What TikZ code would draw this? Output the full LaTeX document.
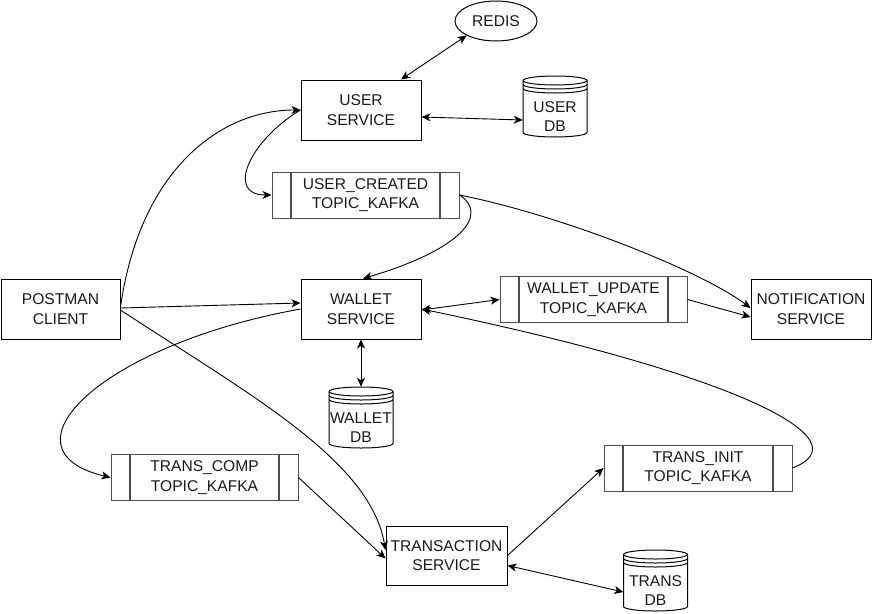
\documentclass[tikz,border=0pt]{standalone}
\usepackage{fontspec}
\setmainfont{Liberation Sans}
\usetikzlibrary{arrows.meta,shapes.geometric,calc}
\definecolor{kgray}{HTML}{4D4D4D}
\definecolor{txtc}{HTML}{1A1A1A}
\newcommand\dfont{\fontsize{15.6pt}{19.5pt}\selectfont}
\tikzset{
  shp/.style={draw=black, line width=1pt},
  box/.style={shp, minimum width=120pt, minimum height=60pt, inner sep=0pt, align=center, font=\dfont, text=txtc},
  txt/.style={inner sep=0pt, align=center, font=\dfont, text=txtc},
  dbnode/.style={inner sep=0pt, minimum width=64pt, minimum height=61pt},
  kafka/.style={draw=kgray, line width=1pt, minimum width=187pt, minimum height=46pt, inner sep=0pt,
    align=center, font=\dfont, text=txtc,
    path picture={
      \draw[kgray, line width=1.6pt] ([xshift=19pt]path picture bounding box.north west) -- ([xshift=19pt]path picture bounding box.south west);
      \draw[kgray, line width=1.6pt] ([xshift=-19pt]path picture bounding box.north east) -- ([xshift=-19pt]path picture bounding box.south east);
    }},
  arr/.style={line width=0.9pt, -{Stealth[length=9pt,width=8pt,inset=2.5pt]}},
  dbl/.style={line width=0.9pt, {Stealth[length=9pt,width=8pt,inset=2.5pt]}-{Stealth[length=9pt,width=8pt,inset=2.5pt]}}
}
\newcommand\mydb[4]{%
  \begin{scope}[shift={(#2,#3)}]
    \draw[shp, fill=white] (-32,-26) -- (-32,26) arc[start angle=180, end angle=0, x radius=32, y radius=4.5]
      -- (32,-26) arc[start angle=0, end angle=-180, x radius=32, y radius=4.5] -- cycle;
    \draw[shp] (-32,-26) arc[start angle=180, end angle=0, x radius=32, y radius=4.5];
    \draw[shp] (-32,-22) arc[start angle=180, end angle=0, x radius=32, y radius=4.5];
    \draw[shp] (-32,-18) arc[start angle=180, end angle=0, x radius=32, y radius=4.5];
  \end{scope}
  \node[dbnode] (#1) at (#2,#3) {};
  \node[txt] at (#2,#3+10) {#4};
}
\begin{document}
\begin{tikzpicture}[x=1pt, y=-1pt]
\useasboundingbox[fill=white] (0,0) rectangle (872,613);

% nodes
\node[shp, ellipse, minimum width=82pt, minimum height=40pt, inner sep=0pt, font=\dfont, text=txtc] (redis) at (496,21) {REDIS};
\node[box] (user) at (361,110) {USER\\SERVICE};
\mydb{udb}{555}{106.5}{USER\\DB}
\node[kafka] (uc) at (365.5,195) {USER\_CREATED\\TOPIC\_KAFKA};
\node[box, minimum width=119pt] (postman) at (60.5,309) {POSTMAN\\CLIENT};
\node[box] (wallet) at (361,309) {WALLET\\SERVICE};
\node[kafka] (wu) at (593.5,299.5) {WALLET\_UPDATE\\TOPIC\_KAFKA};
\node[box] (notif) at (811,309) {NOTIFICATION\\SERVICE};
\mydb{wdb}{361}{417.5}{WALLET\\DB}
\node[kafka] (tc) at (204.5,477.5) {TRANS\_COMP\\TOPIC\_KAFKA};
\node[kafka, minimum width=188pt] (ti) at (698,468) {TRANS\_INIT\\TOPIC\_KAFKA};
\node[box, minimum width=121pt, minimum height=59pt] (trans) at (446.5,555.5) {TRANSACTION\\SERVICE};
\mydb{tdb}{655.5}{580.5}{TRANS\\DB}

% connectors
\draw[dbl] ($(user.north)+(40,0)$) -- (redis.south west);
\draw[dbl] ($(user.east)+(0,7)$) -- ($(udb.west)+(0,13.5)$);
\draw[arr] ($(postman.east)+(0,-2)$) .. controls (140,170) and (220,110) .. (user.west);
\draw[arr] (user.west) .. controls (250,140) and (225,195) .. (uc.west);
\draw[arr] (uc.east) .. controls (490,215) and (460,250) .. ($(wallet.north)+(2,0)$);
\draw[arr] (uc.east) .. controls (560,215) and (700,270) .. ($(notif.west)+(0,-1)$);
\draw[arr] ($(postman.east)+(0,-1)$) -- ($(wallet.west)+(0,-6)$);
\draw[dbl] ($(wallet.east)+(0,1)$) -- (wu.west);
\draw[arr] (wu.east) -- ($(notif.west)+(0,8)$);
\draw[arr] (ti.east) .. controls (865,440) and (740,375) .. (wallet.east);
\draw[dbl] (wallet.south) -- (wdb.north);
\draw[arr] (wallet.west) .. controls (100,345) and (-5,450) .. (tc.west);
\draw[arr] ($(postman.east)+(0,1)$) .. controls (250,395) and (370,460) .. ($(trans.west)+(0,-5.5)$);
\draw[arr] (tc.east) -- ($(trans.west)+(0,3)$);
\draw[arr] (trans.east) -- (ti.west);
\draw[dbl] ($(trans.east)+(0,10)$) -- ($(tdb.west)+(0,11.5)$);
\end{tikzpicture}
\end{document}
